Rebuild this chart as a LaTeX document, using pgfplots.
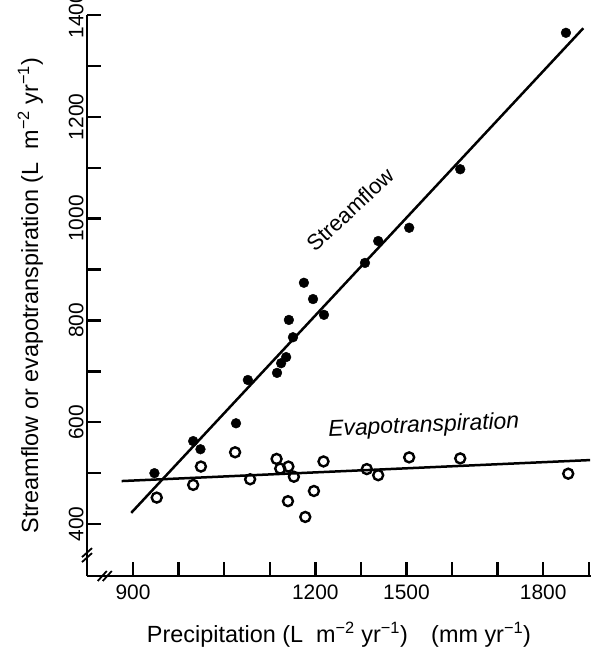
\documentclass[border=0pt]{standalone}
\usepackage{fontspec}
\setmainfont{Liberation Sans}
\usepackage{pgfplots}
\pgfplotsset{compat=1.18}

\begin{document}
\begin{tikzpicture}
\begin{axis}[
    scale only axis,
    width=504bp, height=561bp,
    xmin=799, xmax=1905,
    ymin=298, ymax=1400,
    axis lines=left,
    axis line style={-, line width=2.6bp},
    tick align=inside,
    major tick length=14bp,
    tick style={line width=2.4bp, black},
    xtick={900,1000,1100,1200,1300,1400,1500,1600,1700,1800,1900},
    % label positions as printed in the source figure
    xticklabels={900,,,,1200,,1500,,,1800,},
    ytick={400,500,600,700,800,900,1000,1100,1200,1300,1400},
    yticklabels={400,,600,,800,,1000,,1200,,1400},
    /pgf/number format/assume math mode=true,
    tick label style={font=\fontsize{21}{25}\selectfont},
    xticklabel style={yshift=-5bp},
    yticklabel style={rotate=90, anchor=south},
    label style={font=\fontsize{23.5}{28}\selectfont},
    xlabel={Precipitation (L\ \ m\textsuperscript{−2} yr\textsuperscript{−1})\quad(mm yr\textsuperscript{−1})},
    xlabel style={at={(axis description cs:0.5,-0.1194)}, anchor=base},
    ylabel={Streamflow or evapotranspiration (L\ \ m\textsuperscript{−2} yr\textsuperscript{−1})},
    ylabel style={at={(axis description cs:-0.0972,0.5)}, anchor=base, rotate=0},
    clip=false,
]
\coordinate (o) at (rel axis cs:0,0);

% fitted lines
\addplot[black, line width=2.5bp] coordinates {(896,422) (1888,1374)};
\addplot[black, line width=2.5bp] coordinates {(875,484.5) (1903,525.7)};

% streamflow
\addplot[only marks, mark=*, mark size=4.9bp, black] coordinates {
    (947,500) (1032,563) (1048,547) (1126,598) (1152,683) (1216,697)
    (1225,716) (1236,728) (1242,801) (1251,767) (1275,874) (1295,842)
    (1319,811) (1409,913) (1438,956) (1506,982) (1618,1097) (1850,1365)
};

% evapotranspiration
\addplot[only marks, mark=o, mark size=5bp, black,
    mark options={line width=2.4bp, fill=white}] coordinates {
    (952,452) (1032,477) (1049,513) (1124,541) (1157,488) (1215,528)
    (1223,509) (1241,513) (1253,493) (1240,445) (1278,414) (1297,465)
    (1318,523) (1413,508) (1438,496) (1506,531) (1618,529) (1855,499)
};

\node[rotate=43, font=\fontsize{22}{26}\selectfont] at (axis cs:1376,1018) {Streamflow};
\node[rotate=2.3, font=\fontsize{23}{27}\selectfont\itshape] at (axis cs:1538,592) {Evapotranspiration};

% axis breaks
\draw[line width=1.8bp] (axis cs:799,339) ++(-5bp,-7bp) -- ++(10bp,9bp)
                        (axis cs:799,339) ++(-5bp,-2bp) -- ++(10bp,9bp);
\draw[line width=1.8bp] (axis cs:838,298) ++(-7bp,-5bp) -- ++(9bp,10bp)
                        (axis cs:838,298) ++(-2bp,-5bp) -- ++(9bp,10bp);
\end{axis}
\pgfresetboundingbox
\path[use as bounding box] (o) ++(-87bp,-75bp) rectangle ++(592bp,651bp);
\end{tikzpicture}
\end{document}
